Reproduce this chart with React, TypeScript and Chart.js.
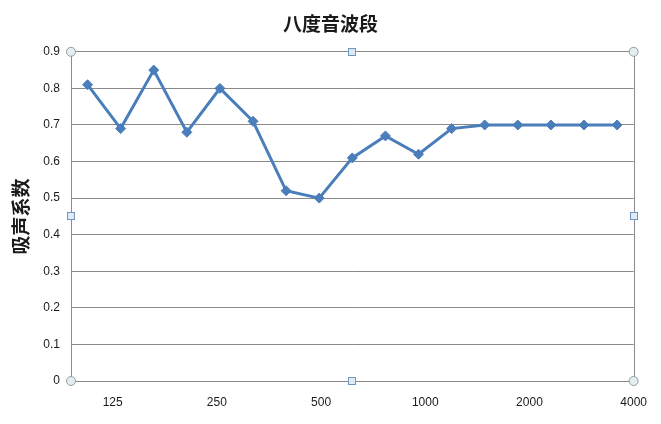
import { useEffect, useRef } from 'react';
import { Chart, registerables } from 'chart.js';

Chart.register(...registerables);

const chartTitle = '八度音波段';
const yAxisTitle = '吸声系数';
const thirdOctaveBands = ['100', '125', '160', '200', '250', '315', '400', '500', '630', '800', '1000', '1250', '1600', '2000', '2500', '3150', '4000'];
const absorptionCoefficients = [0.81, 0.69, 0.85, 0.68, 0.80, 0.71, 0.52, 0.50, 0.61, 0.67, 0.62, 0.69, 0.70, 0.70, 0.70, 0.70, 0.70];
const octaveLabels = ['125', '250', '500', '1000', '2000', '4000'];
const yMin = 0;
const yMax = 0.9;
const yStep = 0.1;

const LINE_COLOR = '#4a7ebb';
const GRID_COLOR = '#8a8a8a';
const TEXT_COLOR = '#1a1a1a';
const TICK_FONT = "'Liberation Sans', Arial, sans-serif";
const CJK_FONT = "'Noto Sans CJK SC', sans-serif";

const frameHandles = {
  id: 'frameHandles',
  beforeDatasetsDraw(chart: any) {
    const { ctx, chartArea } = chart;
    ctx.save();
    ctx.strokeStyle = GRID_COLOR;
    ctx.lineWidth = 1;
    ctx.beginPath();
    ctx.moveTo(Math.round(chartArea.right) + 0.5, chartArea.top);
    ctx.lineTo(Math.round(chartArea.right) + 0.5, chartArea.bottom);
    ctx.stroke();
    ctx.restore();
  },
  afterDraw(chart: any) {
    const { ctx, chartArea } = chart;
    const { left, right, top, bottom } = chartArea;
    const midX = (left + right) / 2;
    const midY = (top + bottom) / 2;
    ctx.save();
    const circles = [[left, top], [right, top], [left, bottom], [right, bottom]];
    circles.forEach(([x, y]) => {
      ctx.beginPath();
      ctx.arc(x, y, 4.5, 0, Math.PI * 2);
      ctx.fillStyle = '#e4eef0';
      ctx.fill();
      ctx.lineWidth = 1;
      ctx.strokeStyle = '#8d9ea4';
      ctx.stroke();
    });
    const squares = [[midX, top], [midX, bottom], [left, midY], [right, midY]];
    squares.forEach(([x, y]) => {
      ctx.fillStyle = '#dfeaf4';
      ctx.fillRect(Math.round(x) - 3.5, Math.round(y) - 3.5, 7, 7);
      ctx.strokeStyle = '#6d97bd';
      ctx.lineWidth = 1;
      ctx.strokeRect(Math.round(x) - 3.5, Math.round(y) - 3.5, 7, 7);
    });
    ctx.restore();
  },
};

export default function App() {
  const canvasRef = useRef<HTMLCanvasElement | null>(null);

  useEffect(() => {
    document.body.style.margin = '0';
    const canvas = canvasRef.current;
    if (!canvas) return;
    const chart = new Chart(canvas, {
      type: 'line',
      data: {
        labels: thirdOctaveBands,
        datasets: [
          {
            label: yAxisTitle,
            data: absorptionCoefficients,
            borderColor: LINE_COLOR,
            backgroundColor: LINE_COLOR,
            borderWidth: 3,
            pointStyle: 'rectRot',
            pointRadius: 5,
            pointBorderWidth: 1,
            tension: 0,
            xAxisID: 'x',
            yAxisID: 'y',
          },
        ],
      },
      options: {
        animation: false,
        responsive: true,
        maintainAspectRatio: false,
        layout: { padding: 0 },
        plugins: {
          legend: { display: false },
          tooltip: { enabled: false },
          title: {
            display: true,
            text: chartTitle,
            color: TEXT_COLOR,
            font: { family: CJK_FONT, size: 19, weight: 'bold' },
            padding: { top: 12, bottom: 17 },
          },
        },
        scales: {
          x: {
            type: 'category',
            display: false,
            offset: true,
          },
          octave: {
            type: 'linear',
            position: 'bottom',
            min: -0.4,
            max: 5,
            grid: { display: false, drawTicks: false },
            border: { display: false },
            afterBuildTicks: (scale: any) => {
              scale.ticks = octaveLabels.map((_, i) => ({ value: i }));
            },
            afterFit: (scale: any) => {
              scale.height = 43;
            },
            ticks: {
              autoSkip: false,
              maxRotation: 0,
              padding: 14,
              color: TEXT_COLOR,
              font: { family: TICK_FONT, size: 12 },
              callback: (value: any) => octaveLabels[Math.round(Number(value))] ?? '',
            },
          },
          y: {
            type: 'linear',
            min: yMin,
            max: yMax,
            afterFit: (scale: any) => {
              scale.width = 71;
            },
            grid: { color: GRID_COLOR, drawTicks: false, lineWidth: 1 },
            border: { display: true, color: GRID_COLOR, width: 1 },
            ticks: {
              stepSize: yStep,
              padding: 11,
              color: TEXT_COLOR,
              font: { family: TICK_FONT, size: 12 },
              callback: (value: any) => String(Number(Number(value).toFixed(1))),
            },
            title: {
              display: true,
              text: yAxisTitle,
              color: TEXT_COLOR,
              font: { family: CJK_FONT, size: 19, weight: 'bold' },
              padding: { top: 9, bottom: 0 },
            },
          },
          rightGap: {
            type: 'linear',
            position: 'right',
            min: 0,
            max: 1,
            grid: { display: false, drawTicks: false },
            border: { display: false },
            ticks: { display: false },
            afterFit: (scale: any) => {
              scale.width = 26;
            },
          },
        },
      },
      plugins: [frameHandles],
    });
    return () => chart.destroy();
  }, []);

  return (
    <div style={{ position: 'fixed', left: 0, top: 0, width: 661, height: 424, background: '#ffffff' }}>
      <canvas ref={canvasRef} />
    </div>
  );
}
